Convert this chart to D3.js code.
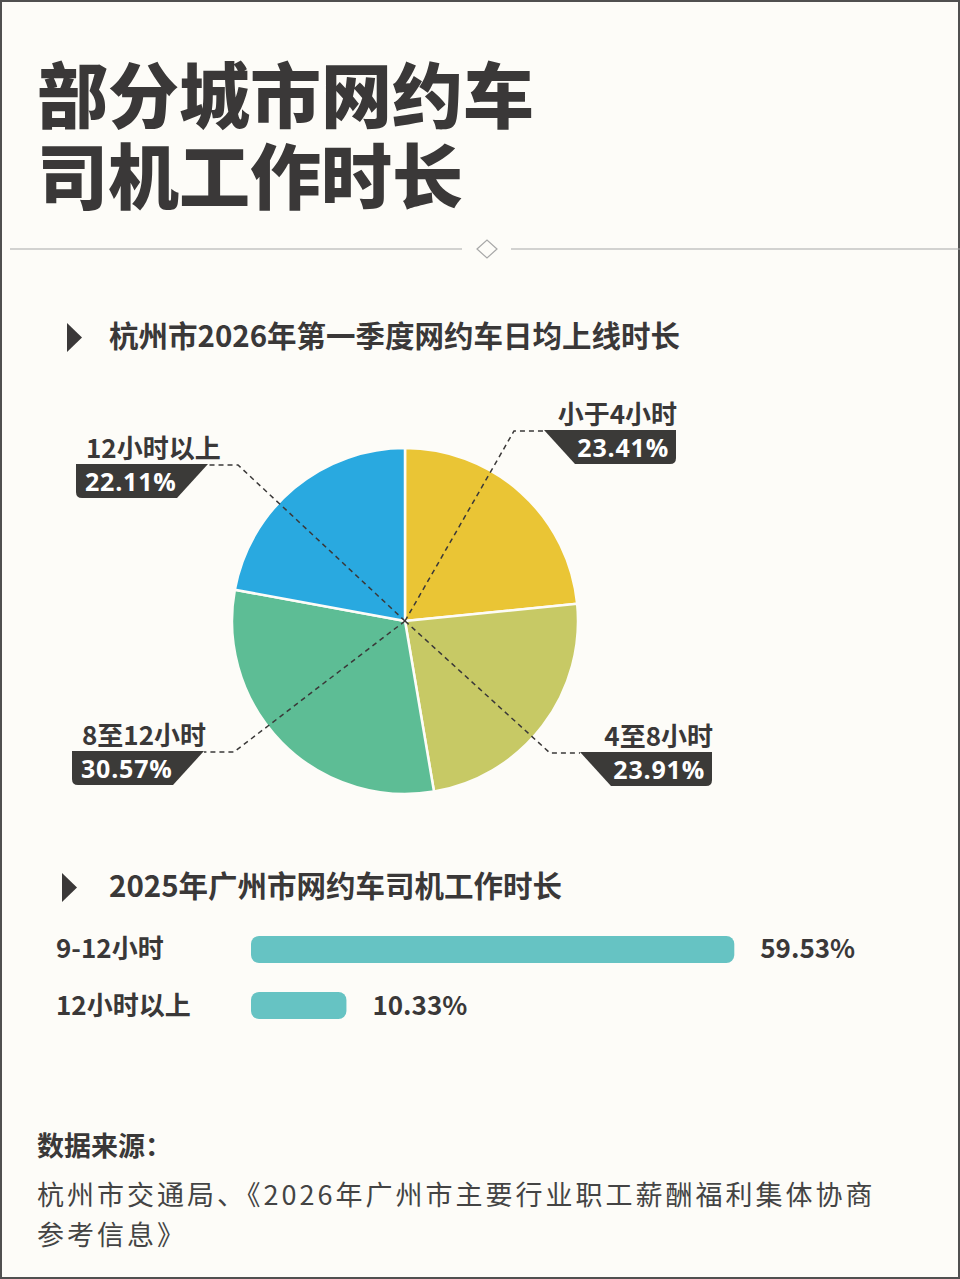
<!DOCTYPE html>
<html>
<head>
<meta charset="utf-8">
<script src="https://cdn.jsdelivr.net/npm/d3@7/dist/d3.min.js"></script>
<style>
  html, body { margin: 0; padding: 0; background: #fdfcf8; }
  svg { display: block; }
</style>
</head>
<body>
<svg id="chart"></svg>
<script>
// pie: 杭州市2026年第一季度网约车日均上线时长
const pieLabels = ['小于4小时', '4至8小时', '8至12小时', '12小时以上'];
const pieValues = [23.41, 23.91, 30.57, 22.11];
const pieColors = ['#eac535', '#c7c965', '#5dbd95', '#29a9e0'];

// bars: 2025年广州市网约车司机工作时长
const barLabels = ['9-12小时', '12小时以上'];
const barValues = [59.53, 10.33];

const titleLines = ['部分城市网约车', '司机工作时长'];
const sourceLines = ['杭州市交通局、《2026年广州市主要行业职工薪酬福利集体协商', '参考信息》'];

// where each pie label's leader line bends (offset from pie centre)
const labelAnchors = [
  { dx: 109, dy: -190, side: 'right' },
  { dx: 145, dy: 132, side: 'right' },
  { dx: -171, dy: 131, side: 'left' },
  { dx: -167, dy: -156, side: 'left' }
];

const W = 960, H = 1279;
const ink = '#3a3838';
const cjk = '"Noto Sans CJK SC", "Noto Sans", sans-serif';

const svg = d3.select('#chart').attr('width', W).attr('height', H);

svg.append('rect')
  .attr('x', 1).attr('y', 1).attr('width', W - 2).attr('height', H - 2)
  .attr('fill', '#fdfcf8').attr('stroke', '#505050').attr('stroke-width', 2);

// TITLE (one text, two lines)
const title = svg.append('text')
  .attr('font-family', cjk).attr('font-weight', 900).attr('font-size', 71)
  .attr('fill', ink);
title.selectAll('tspan')
  .data(titleLines)
  .enter().append('tspan')
  .attr('x', 37)
  .attr('y', (d, i) => 122 + i * 81)
  .text(d => d);

// DIVIDER
const divider = svg.append('g').attr('stroke', '#a8a8a8').attr('stroke-width', 1.2).attr('fill', 'none');
divider.append('line').attr('x1', 10).attr('x2', 462).attr('y1', 249).attr('y2', 249);
divider.append('line').attr('x1', 511).attr('x2', 960).attr('y1', 249).attr('y2', 249);
divider.append('path').attr('d', 'M477,249 L487,240 L497,249 L487,258 Z');

// SECTION HEADINGS
function heading(tx, ty, text, baseline) {
  svg.append('path')
    .attr('d', `M${tx},${ty} L${tx + 15},${ty + 14.5} L${tx},${ty + 29} Z`)
    .attr('fill', ink);
  svg.append('text')
    .attr('x', 109).attr('y', baseline)
    .attr('font-family', cjk).attr('font-weight', 700).attr('font-size', 29.5)
    .attr('fill', ink)
    .text(text);
}
heading(67, 323, '杭州市2026年第一季度网约车日均上线时长', 347);
heading(62, 873, '2025年广州市网约车司机工作时长', 897);

// PIE
const cx = 405, cy = 621, radius = 173;
const pie = d3.pie().sort(null).value(d => d);
const arcs = pie(pieValues);
const arc = d3.arc().innerRadius(0).outerRadius(radius);

const pieG = svg.append('g').attr('transform', `translate(${cx},${cy})`);
pieG.selectAll('path')
  .data(arcs)
  .enter().append('path')
  .attr('d', arc)
  .attr('fill', (d, i) => pieColors[i])
  .attr('stroke', '#fdfcf8')
  .attr('stroke-width', 2.5)
  .attr('stroke-linejoin', 'round');

// LEADER LINES + LABELS
const dashLen = 30, boxW = 132, boxH = 34, slant = 31, corner = 6;

function boxPath(a) {
  const top = a.dy - 1, bot = top + boxH;
  if (a.side === 'right') {
    const x0 = a.dx + dashLen, R = x0 + boxW;
    return `M${x0},${top} L${R},${top} L${R},${bot - corner} Q${R},${bot} ${R - corner},${bot} L${x0 + slant},${bot} Z`;
  }
  const x0 = a.dx - dashLen, L = x0 - boxW;
  return `M${x0},${top} L${L},${top} L${L},${bot - corner} Q${L},${bot} ${L + corner},${bot} L${x0 - slant},${bot} Z`;
}

const labelG = pieG.append('g');
labelG.selectAll('path.leader')
  .data(labelAnchors)
  .enter().append('path')
  .attr('class', 'leader')
  .attr('d', a => `M0,0 L${a.dx},${a.dy} L${a.dx + (a.side === 'right' ? dashLen : -dashLen)},${a.dy}`)
  .attr('fill', 'none')
  .attr('stroke', ink)
  .attr('stroke-width', 1.5)
  .attr('stroke-dasharray', '5,4');

labelG.selectAll('path.box')
  .data(labelAnchors)
  .enter().append('path')
  .attr('class', 'box')
  .attr('d', boxPath)
  .attr('fill', '#3b3a38');

labelG.selectAll('text.name')
  .data(labelAnchors)
  .enter().append('text')
  .attr('class', 'name')
  .attr('x', a => a.side === 'right' ? a.dx + dashLen + boxW + 1 : a.dx - dashLen - boxW + 10)
  .attr('y', a => a.dy - 7)
  .attr('text-anchor', a => a.side === 'right' ? 'end' : 'start')
  .attr('font-family', cjk).attr('font-weight', 700).attr('font-size', 26)
  .attr('fill', ink)
  .text((a, i) => pieLabels[i]);

labelG.selectAll('text.value')
  .data(labelAnchors)
  .enter().append('text')
  .attr('class', 'value')
  .attr('x', a => a.side === 'right' ? a.dx + dashLen + boxW - 7 : a.dx - dashLen - boxW + 9)
  .attr('y', a => a.dy + 26)
  .attr('text-anchor', a => a.side === 'right' ? 'end' : 'start')
  .attr('font-family', '"Open Sans", "Noto Sans", sans-serif').attr('font-weight', 700).attr('font-size', 25)
  .attr('letter-spacing', 0.8)
  .attr('fill', '#ffffff')
  .text((a, i) => d3.format('.2f')(pieValues[i]) + '%');

// BARS
const barLeft = 251;
const x = d3.scaleLinear().domain([0, 60]).range([barLeft + 14, barLeft + 14 + 473]);
const y = d3.scaleBand().domain(barLabels).range([936, 1019]).paddingInner(0.518);

const barG = svg.append('g');
barG.selectAll('rect')
  .data(barValues)
  .enter().append('rect')
  .attr('x', barLeft)
  .attr('y', (d, i) => y(barLabels[i]))
  .attr('width', d => x(d) - barLeft)
  .attr('height', y.bandwidth())
  .attr('rx', 8)
  .attr('fill', '#66c3c3');

barG.selectAll('text.cat')
  .data(barLabels)
  .enter().append('text')
  .attr('class', 'cat')
  .attr('x', 56)
  .attr('y', d => y(d) + y.bandwidth() / 2 + 9)
  .attr('font-family', cjk).attr('font-weight', 700).attr('font-size', 26)
  .attr('fill', ink)
  .text(d => d);

barG.selectAll('text.val')
  .data(barValues)
  .enter().append('text')
  .attr('class', 'val')
  .attr('x', d => x(d) + 26)
  .attr('y', (d, i) => y(barLabels[i]) + y.bandwidth() / 2 + 9)
  .attr('font-family', cjk).attr('font-weight', 700).attr('font-size', 26)
  .attr('fill', ink)
  .text(d => d3.format('.2f')(d) + '%');

// SOURCE
svg.append('text')
  .attr('x', 37).attr('y', 1156)
  .attr('font-family', cjk).attr('font-weight', 700).attr('font-size', 27)
  .attr('fill', ink)
  .text('数据来源：');

svg.append('g').selectAll('text')
  .data(sourceLines)
  .enter().append('text')
  .attr('x', 37)
  .attr('y', (d, i) => 1205 + i * 40)
  .attr('font-family', cjk).attr('font-weight', 400).attr('font-size', 27)
  .attr('letter-spacing', 3)
  .attr('fill', '#444')
  .text(d => d);
</script>
</body>
</html>
